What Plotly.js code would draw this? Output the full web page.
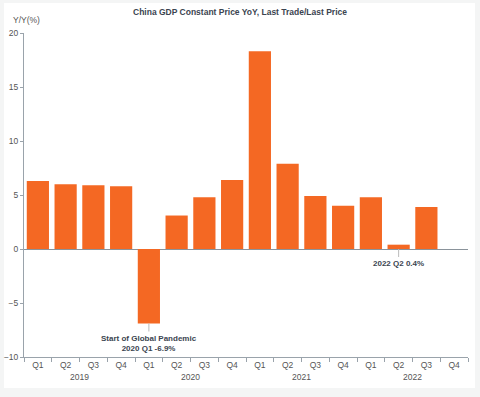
<!DOCTYPE html>
<html><head><meta charset="utf-8">
<script src="https://cdn.plot.ly/plotly-3.0.1.min.js"></script>
<style>
html,body{margin:0;padding:0;background:#f4f5f5;width:480px;height:397px;overflow:hidden;}
#panel{position:absolute;left:4px;top:3px;width:471px;height:385px;background:#fff;}
#chart{position:absolute;left:0;top:0;width:480px;height:397px;}
</style></head>
<body><div id="panel"></div><div id="chart"></div>
<script>
const years = ['2019','2019','2019','2019','2020','2020','2020','2020','2021','2021','2021','2021','2022','2022','2022','2022'];
const quarters = ['Q1','Q2','Q3','Q4','Q1','Q2','Q3','Q4','Q1','Q2','Q3','Q4','Q1','Q2','Q3','Q4'];
const gdpYoY = [6.3,6.0,5.9,5.8,-6.9,3.1,4.8,6.4,18.3,7.9,4.9,4.0,4.8,0.4,3.9,null];
const notes = [
  {year:'2020', q:'Q1', value:-6.9, text:'Start of Global Pandemic<br>2020 Q1 -6.9%'},
  {year:'2022', q:'Q2', value:0.4, text:'2022 Q2 0.4%'}
];
const trace = {type:'bar', x:[years, quarters], y:gdpYoY, marker:{color:'#f46823'}, hoverinfo:'skip'};
const font = {family:'Liberation Sans, Arial, sans-serif', size:8.5, color:'#555'};
const layout = {
  width:480, height:397,
  margin:{l:24, r:12, t:33, b:40},
  paper_bgcolor:'rgba(0,0,0,0)', plot_bgcolor:'rgba(0,0,0,0)',
  bargap:0.2, showlegend:false, font:font,
  title:{text:'<b>China GDP Constant Price YoY, Last Trade/Last Price</b>', x:0.5, xanchor:'center', y:0.97, yanchor:'middle', font:{family:'Liberation Sans, Arial, sans-serif', size:8.5, color:'#3b4450'}},
  xaxis:{type:'multicategory', showline:true, linecolor:'#9aa3ab', linewidth:1, ticks:'outside', tickson:'boundaries', ticklen:4, tickcolor:'#9aa3ab', showgrid:false, zeroline:false, showdividers:false, tickfont:font},
  yaxis:{range:[-10,20], tickvals:[-10,-5,0,5,10,15,20], showline:true, linecolor:'#9aa3ab', linewidth:1, ticks:'outside', ticklen:3, tickcolor:'#9aa3ab', showgrid:false, zeroline:true, zerolinecolor:'#8a939b', zerolinewidth:1, tickfont:font, fixedrange:true},
  annotations:[
    {xref:'paper', yref:'paper', x:-0.03, y:1.018, xanchor:'left', yanchor:'bottom', text:'Y/Y(%)', showarrow:false, font:font}
  ].concat(notes.map(n=>({
    x:[n.year, n.q], y:Math.min(n.value,0), xref:'x', yref:'y', text:'<b>'+n.text+'</b>', showarrow:true, arrowhead:0, arrowwidth:1, arrowcolor:'#bbb', ax:0, ay:8, yanchor:'top', font:{family:'Liberation Sans, Arial, sans-serif', size:8, color:'#3b4450'}
  })))
};
Plotly.newPlot('chart',[trace],layout,{displayModeBar:false, staticPlot:true});
</script></body></html>
